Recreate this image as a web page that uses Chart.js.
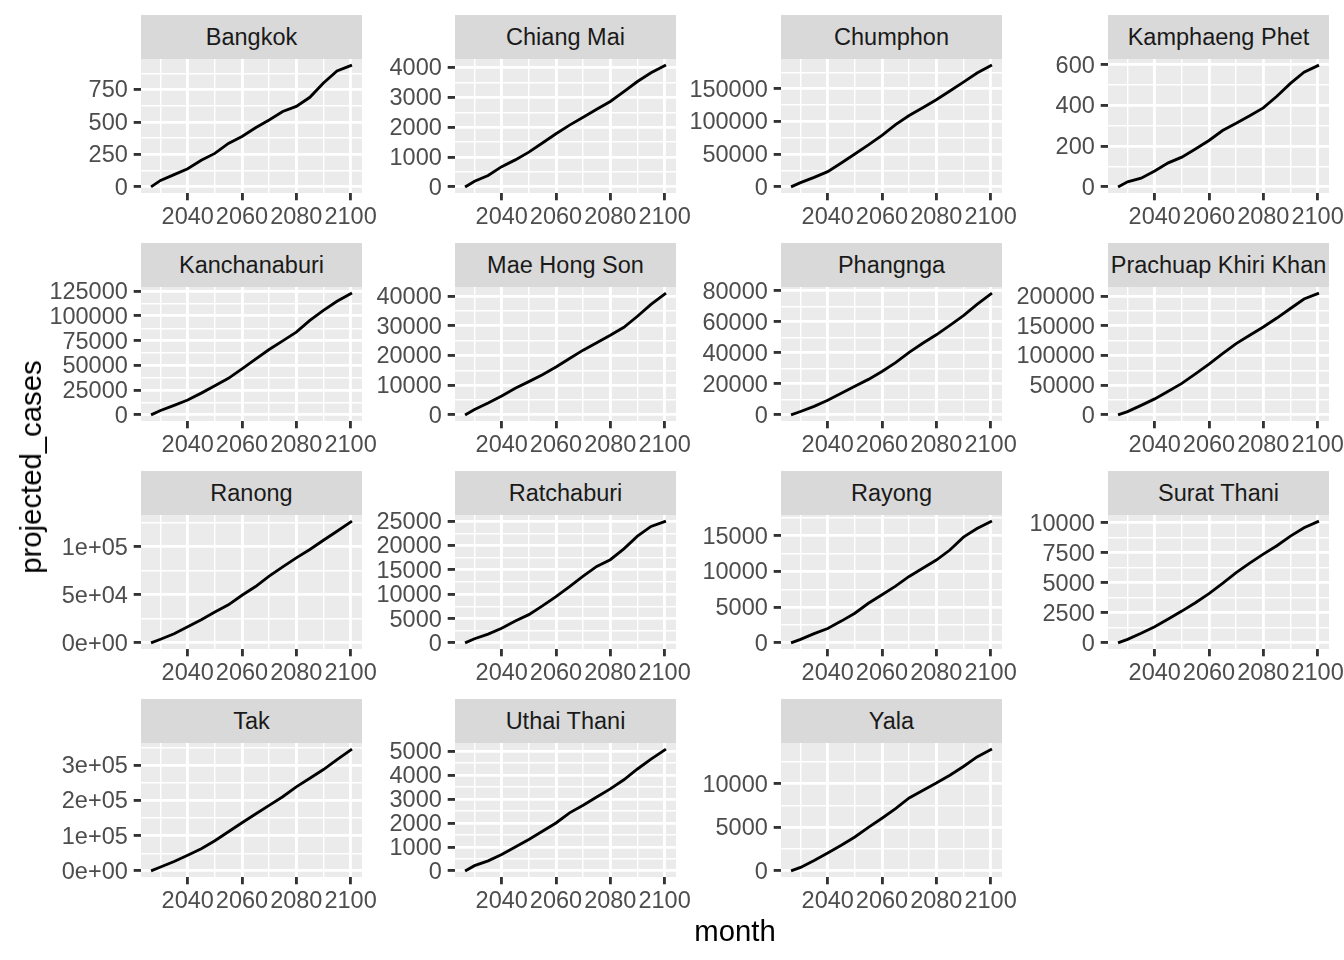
<!DOCTYPE html>
<html>
<head>
<meta charset="utf-8">
<script src="https://cdn.jsdelivr.net/npm/chart.js@4.4.1/dist/chart.umd.min.js"></script>
<style>
  body { margin: 0; background: #fff; width: 1344px; height: 960px; position: relative; overflow: hidden;
         font-family: "Liberation Sans", Arial, sans-serif; }
  .strip { position: absolute; height: 44px; background: #D9D9D9; color: #1A1A1A; font-size: 23.5px;
           display: flex; align-items: center; justify-content: center; white-space: nowrap; }
  canvas { position: absolute; }
  .title { position: absolute; font-size: 29.3px; color: #000; white-space: nowrap; }
</style>
</head>
<body>
<script>
// data (months as decimal years)
const months = [2026.5, 2030, 2035, 2040, 2045, 2050, 2055, 2060, 2065, 2070, 2075, 2080, 2085, 2090, 2095, 2100.5];
const xBreaks = [2040, 2060, 2080, 2100];

const provinces = ['Bangkok', 'Chiang Mai', 'Chumphon', 'Kamphaeng Phet',
  'Kanchanaburi', 'Mae Hong Son', 'Phangnga', 'Prachuap Khiri Khan',
  'Ranong', 'Ratchaburi', 'Rayong', 'Surat Thani',
  'Tak', 'Uthai Thani', 'Yala'];

const bangkok       = [0, 50, 95, 140, 205, 258, 335, 388, 455, 515, 581, 620, 690, 800, 893, 938];
const chiangMai     = [0, 190, 380, 678, 905, 1165, 1470, 1780, 2070, 2330, 2600, 2860, 3190, 3530, 3820, 4080];
const chumphon      = [0, 6500, 14500, 23300, 36600, 50200, 64100, 78800, 95000, 109000, 121000, 133000, 146500, 160000, 174000, 186000];
const kamphaengPhet = [0, 25, 43, 78, 118, 146, 186, 228, 277, 312, 349, 388, 445, 508, 563, 598];
const kanchanaburi  = [0, 4500, 9600, 15000, 22000, 29500, 36900, 46500, 56300, 66000, 74800, 83600, 95500, 105500, 114700, 123000];
const maeHongSon    = [0, 1800, 4000, 6400, 9000, 11200, 13500, 16100, 19000, 21800, 24300, 26800, 29500, 33200, 37200, 41000];
const phangnga      = [0, 2200, 5500, 9400, 13900, 18500, 22900, 28000, 33700, 40300, 46200, 51600, 57700, 64000, 71200, 78500];
const prachuap      = [0, 5500, 16000, 27000, 40000, 53000, 69000, 85500, 103000, 120000, 134000, 148000, 163000, 179000, 195000, 205000];
const ranong        = [0, 3800, 9500, 16800, 24000, 32000, 39500, 49500, 58500, 69300, 79000, 88300, 97000, 106600, 116000, 126500];
const ratchaburi    = [0, 850, 1800, 3000, 4500, 5800, 7600, 9500, 11570, 13700, 15700, 17080, 19300, 21900, 23900, 25000];
const rayong        = [0, 500, 1300, 2020, 3050, 4150, 5550, 6750, 7950, 9300, 10450, 11600, 13000, 14800, 16000, 17050];
const suratThani    = [0, 300, 800, 1350, 2000, 2650, 3350, 4100, 4960, 5850, 6650, 7400, 8100, 8900, 9600, 10150];
const tak           = [0, 11000, 26500, 44400, 62800, 85300, 110900, 136500, 161000, 185500, 210000, 238000, 262500, 287000, 315000, 345000];
const uthaiThani    = [0, 220, 420, 680, 1000, 1310, 1650, 2000, 2420, 2740, 3080, 3420, 3800, 4250, 4660, 5080];
const yala          = [0, 400, 1200, 2050, 2950, 3900, 5000, 6050, 7150, 8380, 9250, 10100, 11000, 12000, 13100, 14000];

const series = [bangkok, chiangMai, chumphon, kamphaengPhet, kanchanaburi, maeHongSon, phangnga, prachuap,
  ranong, ratchaburi, rayong, suratThani, tak, uthaiThani, yala];

// y axis breaks for each panel
const yBreaks = [
  [0, 250, 500, 750], [0, 1000, 2000, 3000, 4000], [0, 50000, 100000, 150000], [0, 200, 400, 600],
  [0, 25000, 50000, 75000, 100000, 125000], [0, 10000, 20000, 30000, 40000], [0, 20000, 40000, 60000, 80000],
  [0, 50000, 100000, 150000, 200000],
  [0, 50000, 100000], [0, 5000, 10000, 15000, 20000, 25000], [0, 5000, 10000, 15000], [0, 2500, 5000, 7500, 10000],
  [0, 100000, 200000, 300000], [0, 1000, 2000, 3000, 4000, 5000], [0, 5000, 10000]
];
const sciLabelled = ['Ranong', 'Tak'];

// layout (px)
const PANEL_W = 221, PANEL_H = 134, STRIP_H = 44;
const AXIS_W = 110, AXIS_H = 60, PAD_R = 30, PAD_T = 20;
const colLeft = [141, 455, 781, 1108];
const rowTop = [15, 243, 471, 699];
const FONT = '"Liberation Sans", Arial, sans-serif';

const panelBg = {
  id: 'panelBg',
  beforeDraw(chart) {
    const { ctx, chartArea: a } = chart;
    ctx.save();
    ctx.fillStyle = '#EBEBEB';
    ctx.fillRect(a.left, a.top, a.width, a.height);
    ctx.restore();
  }
};

// majors + minor midpoints that fall inside the range
function withMinors(majors, min, max) {
  const step = majors[1] - majors[0];
  const out = [];
  majors.forEach(v => out.push(v, v + step / 2));
  out.push(majors[0] - step / 2);
  return out.filter(v => v >= min && v <= max).sort((a, b) => a - b);
}

function gridOpts(majors) {
  const isMajor = c => c.tick && majors.includes(c.tick.value);
  return {
    color: '#FFFFFF',
    lineWidth: c => isMajor(c) ? 2.85 : 1.42,
    tickLength: 7.3,
    tickWidth: 2.85,
    tickColor: c => isMajor(c) ? '#333333' : 'rgba(0,0,0,0)'
  };
}

function sci(v) {
  return v.toExponential(0).replace(/e([+-])(\d)$/, 'e$10$2');
}

const xSpan = months[months.length - 1] - months[0];
const xMin = months[0] - xSpan * 0.05, xMax = months[months.length - 1] + xSpan * 0.05;
const xTicks = withMinors(xBreaks, xMin, xMax);

provinces.forEach((name, i) => {
  const col = i % 4, row = Math.floor(i / 4);
  const left = colLeft[col], top = rowTop[row];

  const strip = document.createElement('div');
  strip.className = 'strip';
  strip.style.left = left + 'px';
  strip.style.top = top + 'px';
  strip.style.width = PANEL_W + 'px';
  strip.textContent = name;
  document.body.appendChild(strip);

  const canvas = document.createElement('canvas');
  canvas.width = AXIS_W + PANEL_W + PAD_R;
  canvas.height = PAD_T + PANEL_H + AXIS_H;
  canvas.style.left = (left - AXIS_W) + 'px';
  canvas.style.top = (top + STRIP_H - PAD_T) + 'px';
  document.body.appendChild(canvas);

  const values = series[i];
  const lo = Math.min(...values), hi = Math.max(...values);
  const yMin = lo - (hi - lo) * 0.05, yMax = hi + (hi - lo) * 0.05;
  const majors = yBreaks[i];
  const yTicks = withMinors(majors, yMin, yMax);
  const useSci = sciLabelled.includes(name);

  new Chart(canvas, {
    type: 'line',
    data: {
      datasets: [{
        data: months.map((m, k) => ({ x: m, y: values[k] })),
        borderColor: '#000000',
        borderWidth: 2.85,
        pointRadius: 0,
        tension: 0,
        fill: false
      }]
    },
    options: {
      responsive: false,
      animation: false,
      events: [],
      layout: { padding: { left: 0, right: PAD_R, top: PAD_T, bottom: 0 } },
      plugins: { legend: { display: false }, tooltip: { enabled: false } },
      scales: {
        x: {
          type: 'linear', min: xMin, max: xMax,
          border: { display: false },
          afterBuildTicks: s => { s.ticks = xTicks.map(v => ({ value: v })); },
          afterFit: s => { s.height = AXIS_H; s.paddingLeft = 0; s.paddingRight = 0; },
          grid: gridOpts(xBreaks),
          ticks: {
            autoSkip: false, maxRotation: 0, minRotation: 0, padding: 3.5,
            color: '#4D4D4D', font: { family: FONT, size: 23.5 },
            callback: v => xBreaks.includes(v) ? String(v) : ''
          }
        },
        y: {
          type: 'linear', min: yMin, max: yMax,
          border: { display: false },
          afterBuildTicks: s => { s.ticks = yTicks.map(v => ({ value: v })); },
          afterFit: s => { s.width = AXIS_W; s.paddingTop = 0; s.paddingBottom = 0; },
          grid: gridOpts(majors),
          ticks: {
            autoSkip: false, padding: 5.9, labelOffset: 1.5,
            color: '#4D4D4D', font: { family: FONT, size: 23.5 },
            callback: v => majors.includes(v) ? (useSci ? sci(v) : String(v)) : ''
          }
        }
      }
    },
    plugins: [panelBg]
  });
});

const yTitle = document.createElement('div');
yTitle.className = 'title';
yTitle.textContent = 'projected_cases';
yTitle.style.left = '31px';
yTitle.style.top = '467px';
yTitle.style.transform = 'translate(-50%, -50%) rotate(-90deg)';
document.body.appendChild(yTitle);

const xTitle = document.createElement('div');
xTitle.className = 'title';
xTitle.textContent = 'month';
xTitle.style.left = '735px';
xTitle.style.top = '931px';
xTitle.style.transform = 'translate(-50%, -50%)';
document.body.appendChild(xTitle);
</script>
</body>
</html>
